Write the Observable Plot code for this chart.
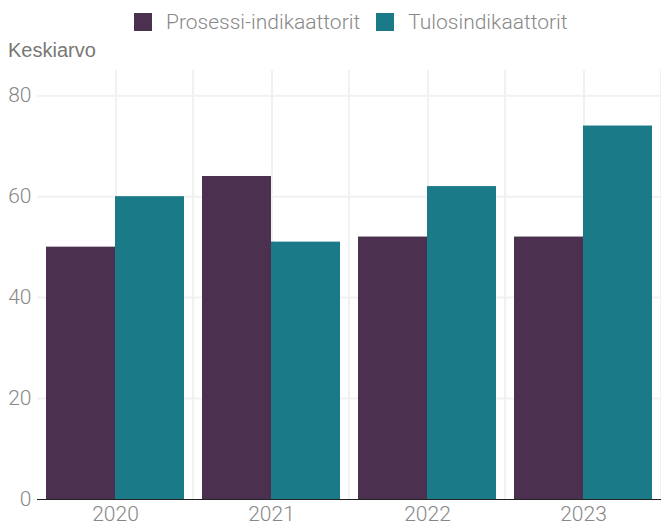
<!DOCTYPE html>
<html>
<head>
<meta charset="utf-8">
<script src="https://cdn.jsdelivr.net/npm/d3@7"></script>
<script src="https://cdn.jsdelivr.net/npm/@observablehq/plot@0.6"></script>
<style>
  body { margin: 0; background: #fff; }
  #wrap { position: relative; width: 661px; height: 525px; overflow: hidden; }
  #legend { position: absolute; left: 134px; top: 4px; height: 36px; display: flex; align-items: center;
            font-family: Roboto, "Open Sans", sans-serif; font-weight: 300; font-size: 21px; color: #888; white-space: nowrap; }
  .sw { width: 18px; height: 18px; display: inline-block; margin-right: 14px; }
  .item { display: flex; align-items: center; margin-right: 16px; }
  #ylab { position: absolute; left: 8px; top: 39px; font-family: "Liberation Sans", Arial, sans-serif; font-size: 20px; color: #777; }
  #chart { position: absolute; left: 0; top: 38px; }
  #chart svg { overflow: visible; }
</style>
</head>
<body>
<div id="wrap">
  <div id="legend"></div>
  <div id="ylab">Keskiarvo</div>
  <div id="chart"></div>
</div>
<script>
const years = ["2020", "2021", "2022", "2023"];
const series = ["Prosessi-indikaattorit", "Tulosindikaattorit"];
const colors = ["#4B304F", "#1B7A87"];
const prosessi = [50, 64, 52, 52];
const tulos = [60, 51, 62, 74];
const yTicks = [0, 20, 40, 60, 80];
const yLabel = "Keskiarvo";

const data = [];
years.forEach((y, i) => {
  data.push({year: y, series: series[0], value: prosessi[i]});
  data.push({year: y, series: series[1], value: tulos[i]});
});

// legend
const legend = document.getElementById("legend");
series.forEach((s, i) => {
  const it = document.createElement("span");
  it.className = "item";
  const sw = document.createElement("span");
  sw.className = "sw";
  sw.style.background = colors[i];
  it.appendChild(sw);
  it.appendChild(document.createTextNode(s));
  legend.appendChild(it);
});
document.getElementById("ylab").textContent = yLabel;

const W = 661, H = 487, mL = 37, mR = 0, mT = 32, mB = 26;
const padOuter = 0.1143;
const fxStep = (W - mL - mR) / years.length;
const bw = fxStep / (series.length + 2 * padOuter);
const gridColor = "#f1f1f1";

const chart = Plot.plot({
  width: W, height: H,
  marginLeft: mL, marginRight: mR, marginTop: mT, marginBottom: mB,
  style: {fontFamily: "Roboto, 'Open Sans', sans-serif", fontWeight: 300, fontSize: "21px", color: "#888", background: "transparent", overflow: "visible"},
  fx: {domain: years, padding: 0, label: null, axis: "bottom", tickSize: 0, tickPadding: 7},
  x: {domain: series, paddingInner: 0, paddingOuter: padOuter, axis: null},
  y: {domain: [0, 85], ticks: yTicks, tickSize: 0, tickPadding: 6, label: null},
  color: {domain: series, range: colors},
  marks: [
    Plot.ruleY(yTicks.filter(d => d > 0), {stroke: gridColor, strokeWidth: 2}),
    Plot.ruleX([series[0]], {stroke: gridColor, strokeWidth: 2, dx: bw / 2}),
    Plot.ruleX([series[1]], {stroke: gridColor, strokeWidth: 2, dx: bw / 2 + bw * padOuter}),
    Plot.barY(data, {fx: "year", x: "series", y: "value", fill: "series", inset: 0}),
    Plot.ruleY([0], {stroke: "#222", strokeWidth: 1.2})
  ]
});
document.getElementById("chart").appendChild(chart);
</script>
</body>
</html>
